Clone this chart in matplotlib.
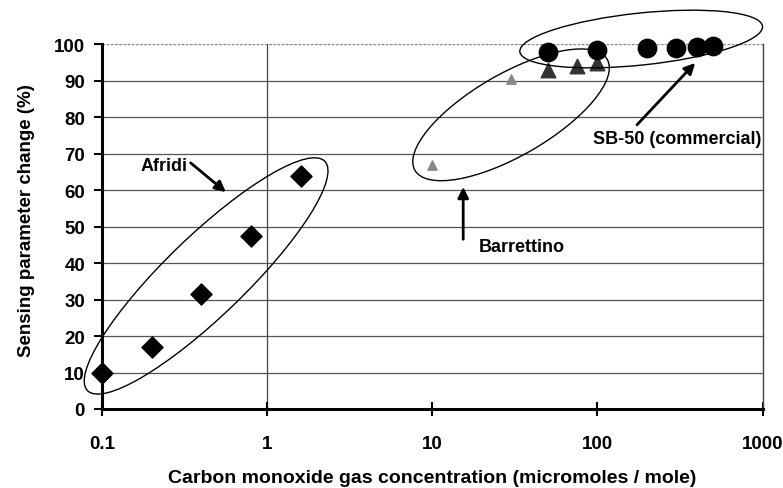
import matplotlib
matplotlib.use("Agg")
import matplotlib.pyplot as plt
from matplotlib.patches import Ellipse
from matplotlib.transforms import IdentityTransform

# data
afridi_x = [0.1, 0.2, 0.4, 0.8, 1.6]
afridi_y = [10, 17, 31.5, 47.5, 63.8]

barr_x = [10, 30, 50, 75, 100]
barr_y = [67, 90.5, 93, 94, 95]

sb50_x = [50, 100, 200, 300, 400, 500]
sb50_y = [98, 98.5, 99, 99, 99.2, 99.5]

yticks = list(range(0, 101, 10))
xticks = [0.1, 1, 10, 100, 1000]
xticklabels = ["0.1", "1", "10", "100", "1000"]

plt.rcParams['font.family'] = ['Liberation Sans', 'DejaVu Sans']
plt.rcParams['font.weight'] = 'bold'

fig = plt.figure(figsize=(7.83, 4.89), dpi=100)
ax = fig.add_axes([0.13, 0.1616, 0.844, 0.7454])
ax.set_xscale('log')
ax.set_xlim(0.1, 1000)
ax.set_ylim(0, 100)

# grid
for y in yticks[1:-1]:
    ax.axhline(y, color='#555555', lw=0.9, zorder=0)
ax.axhline(100, color='#888888', lw=1.0, ls=(0, (2, 1)), zorder=0)
ax.axvline(1, color='#444444', lw=0.9, zorder=0)

ax.scatter(afridi_x, afridi_y, marker='D', s=115, color='black', zorder=3, clip_on=False)
ax.scatter(barr_x[:2], barr_y[:2], marker='^', s=45, color='#888888', zorder=3)
ax.scatter(barr_x[2:], barr_y[2:], marker='^', s=110, color='#333333', zorder=3)
ax.scatter(sb50_x, sb50_y, marker='o', s=175, color='black', zorder=4, clip_on=False)

ax.set_xticks(xticks)
ax.set_xticklabels(xticklabels)
ax.xaxis.set_minor_locator(plt.NullLocator())
ax.set_yticks(yticks)
ax.tick_params(axis='y', direction='out', length=6, width=1.5, labelsize=13.5, pad=6)
ax.tick_params(axis='x', direction='inout', length=10, width=1.5, labelsize=13.5, pad=14)

for side in ['left', 'bottom']:
    ax.spines[side].set_linewidth(2.2)
ax.spines['top'].set_visible(False)
ax.spines['right'].set_color('#444444')
ax.spines['right'].set_linewidth(1.0)

ax.set_xlabel("Carbon monoxide gas concentration (micromoles / mole)",
              fontsize=14, fontweight='bold', va='center')
ax.xaxis.set_label_coords(0.5, -0.189)
ax.set_ylabel("Sensing parameter change (%)", fontsize=13.5, fontweight='bold', va='center')
ax.yaxis.set_label_coords(-0.1146, 0.52)

# group ellipses: centre in data coords, size in pixels, angle in degrees
fig.canvas.draw()
groups = [
    ((0.428, 36.5), 330, 80, 44),
    ((30, 80.7), 222, 82, 30),
    ((184, 101.5), 244, 52, 6),
]
for (cx, cy), w, h, ang in groups:
    px, py = ax.transData.transform((cx, cy))
    e = Ellipse((px, py), w, h, angle=ang, fill=False, edgecolor='black',
                lw=1.0, transform=IdentityTransform(), clip_on=False, zorder=5)
    fig.add_artist(e)

arrow = dict(arrowstyle='-|>', color='black', lw=2, mutation_scale=16)
ax.text(0.238, 66.9, "Afridi", fontsize=13, fontweight='bold', ha='center', va='center')
ax.annotate('', xy=(0.581, 59), xytext=(0.335, 68), arrowprops=arrow)

ax.text(19.2, 44.7, "Barrettino", fontsize=13, fontweight='bold', ha='left', va='center')
ax.annotate('', xy=(15.4, 61.7), xytext=(15.4, 45.8), arrowprops=arrow)

ax.text(94.2, 74.1, "SB-50 (commercial)", fontsize=13, fontweight='bold', ha='left', va='center')
ax.annotate('', xy=(401, 95.5), xytext=(169, 77.4), arrowprops=arrow)

fig.savefig("out.png", dpi=100)
